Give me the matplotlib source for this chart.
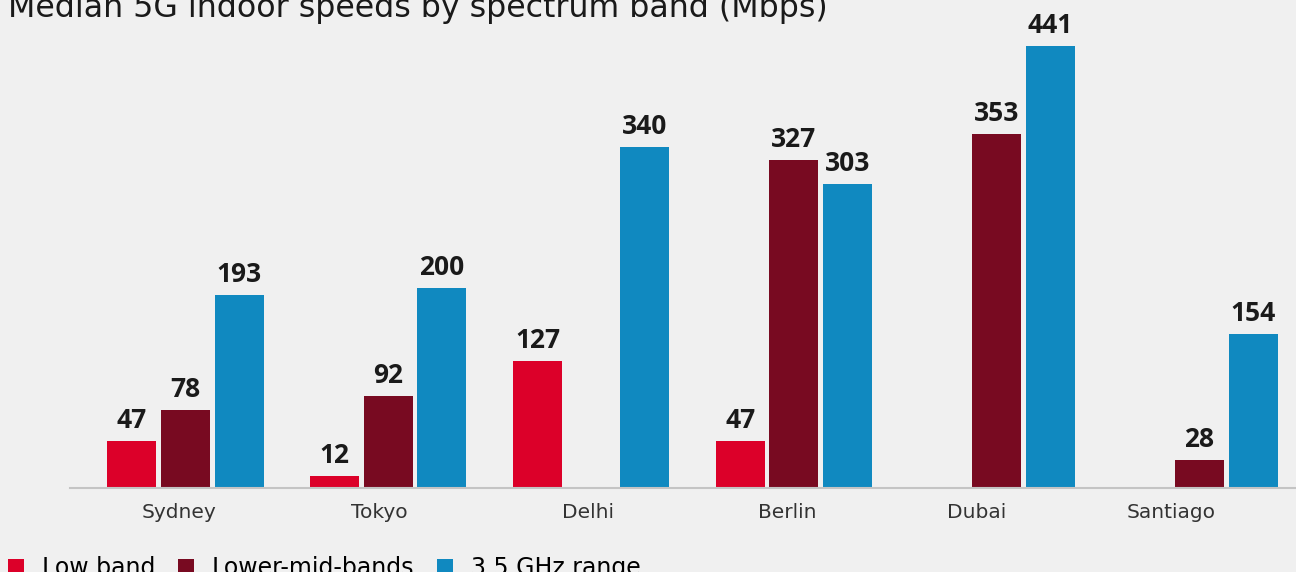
import matplotlib
matplotlib.use("Agg")
import matplotlib.pyplot as plt
import matplotlib.transforms as mtransforms
import numpy as np

plt.rcParams['font.family'] = ['DejaVu Sans']

cities = ["Sydney", "Tokyo", "Delhi", "Berlin", "Dubai", "Santiago"]
low_band = [47, 12, 127, 47, None, None]
lower_mid = [78, 92, None, 327, 353, 28]
ghz_35 = [193, 200, 340, 303, 441, 154]

series_names = ["Low band", "Lower-mid-bands", "3.5 GHz range"]
colors = ["#DC0029", "#780A21", "#1089C0"]
BG = "#F0F0F0"

W, H = 1296, 572
fig = plt.figure(figsize=(W / 100, H / 100), dpi=100, facecolor=BG)
# axes box in pixels: left 70, right edge of image, baseline 488, top 30
ax = fig.add_axes([70 / W, (H - 488) / H, (W - 70) / W, (488 - 30) / H])
ax.set_facecolor(BG)

x = np.arange(len(cities))
bar_w = 0.2416
step = 0.264

for k, (vals, col, name) in enumerate(zip([low_band, lower_mid, ghz_35], colors, series_names)):
    xs = [xi + (k - 1) * step for xi, v in zip(x, vals) if v is not None]
    ys = [v for v in vals if v is not None]
    bars = ax.bar(xs, ys, width=bar_w, color=col, label=name, zorder=2)
    for b, v in zip(bars, ys):
        ax.annotate(str(v), (b.get_x() + b.get_width() / 2, v),
                    xytext=(0, 5), textcoords="offset points",
                    ha="center", va="bottom", fontsize=19,
                    family="Open Sans", fontweight="bold",
                    color="#1a1a1a")

ax.set_xlim(x[0] - 0.5695, x[-1] + 0.4756)
ax.set_ylim(0, 457)
ax.set_xticks(x)
ax.set_xticklabels(cities, fontsize=14.5, color="#333333")
ax.tick_params(axis="x", length=0, pad=11)

# the category labels sit a little left of their bar groups in the original
label_shift_px = [-6, -9, -3, -7, -20, -28]
for lab, dx in zip(ax.get_xticklabels(), label_shift_px):
    lab.set_transform(lab.get_transform() + mtransforms.Affine2D().translate(dx, 0))

ax.set_yticks([])
for s in ["top", "right", "left"]:
    ax.spines[s].set_visible(False)
ax.spines["bottom"].set_color("#c4c4c4")
ax.spines["bottom"].set_linewidth(1.5)

fig.text(8 / W, 1 - 17 / H, "Median 5G indoor speeds by spectrum band (Mbps)",
         fontsize=22.8, color="#1a1a1a", ha="left", va="baseline")

fig.legend(loc="lower left", bbox_to_anchor=(8 / W, -0.014), ncol=3, frameon=False,
           fontsize=17, handlelength=0.68, handleheight=0.68, handletextpad=0.76,
           columnspacing=0.95, borderaxespad=0, borderpad=0)

fig.savefig("out.png", dpi=100, facecolor=BG)
